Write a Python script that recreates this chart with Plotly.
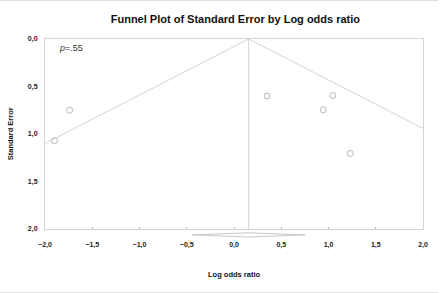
import plotly.graph_objects as go

# Study data (log odds ratio vs standard error)
log_odds = [-1.74, -1.90, 0.35, 1.045, 0.945, 1.23]
std_err = [0.75, 1.07, 0.60, 0.595, 0.745, 1.205]

# Pooled estimate and its confidence interval (diamond)
pooled = 0.155
ci_low = -0.44
ci_high = 0.75
p_label = ".55"

x_ticks = [-2.0, -1.5, -1.0, -0.5, 0.0, 0.5, 1.0, 1.5, 2.0]
y_ticks = [0.0, 0.5, 1.0, 1.5, 2.0]
x_min, x_max = -2.0, 2.0
y_max = 2.0

FONT = "Liberation Sans"
GRID = "#d4d4d4"

# Funnel boundaries (pseudo 95% limits) clipped to the x range
se_left = (pooled - x_min) / 1.96
se_right = (x_max - pooled) / 1.96

fig = go.Figure()
fig.add_trace(go.Scatter(
    x=[x_min, pooled, x_max], y=[se_left, 0, se_right],
    mode="lines", line=dict(color=GRID, width=1), hoverinfo="skip", showlegend=False))
fig.add_trace(go.Scatter(
    x=[pooled, pooled], y=[0, y_max],
    mode="lines", line=dict(color=GRID, width=1), hoverinfo="skip", showlegend=False))
fig.add_trace(go.Scatter(
    x=log_odds, y=std_err, mode="markers",
    marker=dict(symbol="circle-open", size=6, color="#b8b8b8", line=dict(width=1, color="#b8b8b8")),
    showlegend=False))

# Diamond below the axis (pooled estimate)
dy0, dh = -0.031, 0.011
path = (f"M {ci_low} {dy0} L {pooled} {dy0 + dh} L {ci_high} {dy0} "
        f"L {pooled} {dy0 - dh} Z")
fig.add_shape(type="path", path=path, xref="x", yref="paper",
              line=dict(color="#c8c8c8", width=1), fillcolor="white")

# Faint page rules at top and bottom
for yy in [1.2026, -0.3335]:
    fig.add_shape(type="line", xref="paper", yref="paper", x0=-0.12, x1=1.04,
                  y0=yy, y1=yy, line=dict(color="#e0e0e0", width=1))

fig.add_annotation(text="<i>p</i>=" + p_label, xref="paper", yref="paper",
                   x=0.033, y=0.955, xanchor="left", yanchor="middle", showarrow=False,
                   font=dict(family=FONT, size=9, color="#333"))
fig.add_annotation(text="Log odds ratio", xref="paper", yref="paper",
                   x=0.5, y=-0.242, xanchor="center", yanchor="middle", showarrow=False,
                   font=dict(family=FONT, size=7.5, color="#111", weight=700))
fig.add_annotation(text="Standard Error", xref="paper", yref="paper",
                   x=-0.092, y=0.5, xanchor="center", yanchor="middle", textangle=-90,
                   showarrow=False, font=dict(family=FONT, size=7.5, color="#111", weight=700))

fig.update_layout(
    width=440, height=293,
    margin=dict(l=45, r=15, t=39, b=64),
    paper_bgcolor="white", plot_bgcolor="white",
    separators=",.",
    title=dict(text="Funnel Plot of Standard Error by Log odds ratio",
               x=0.535, xanchor="center", y=1 - 19 / 293, yanchor="middle",
               font=dict(family=FONT, size=11, color="#111", weight=700)),
    xaxis=dict(range=[x_min, x_max], tickvals=x_ticks, tickformat=".1f",
               showgrid=False, zeroline=False, showline=True, mirror=True,
               linecolor=GRID, linewidth=1, ticks="inside", ticklen=2, tickcolor="#c0c0c0",
               ticklabelstandoff=9,
               tickfont=dict(family=FONT, size=7, color="#1a1a1a", weight=700)),
    yaxis=dict(range=[y_max, 0], tickvals=y_ticks, tickformat=".1f",
               showgrid=False, zeroline=False, showline=True, mirror=True,
               linecolor=GRID, linewidth=1, ticks="", ticklabelstandoff=5,
               tickfont=dict(family=FONT, size=7, color="#1a1a1a", weight=700)),
)

fig.write_html("out.html", config={"displayModeBar": False},
               post_script="document.body.style.margin='0';")
